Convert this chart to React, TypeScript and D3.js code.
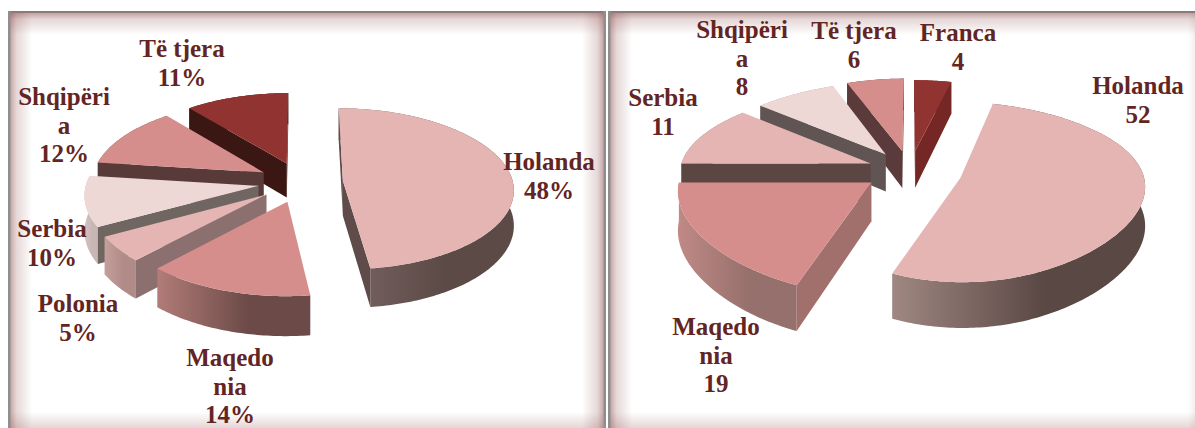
import React from 'react';
import * as d3 from 'd3';

// left chart (percent), clockwise from 12 o'clock
const leftNames = ['Holanda', 'Maqedonia', 'Polonia', 'Serbia', 'Shqipëria', 'Të tjera'];
const leftValues = [48, 14, 5, 10, 12, 11];
const leftLabels = [
  ['Holanda', '48%'],
  ['Maqedo', 'nia', '14%'],
  ['Polonia', '5%'],
  ['Serbia', '10%'],
  ['Shqipëri', 'a', '12%'],
  ['Të tjera', '11%'],
];

// right chart, also clockwise from 12 o'clock
const rightNames = ['Franca', 'Holanda', 'Maqedonia', 'Serbia', 'Shqipëria', 'Të tjera'];
const rightValues = [4, 52, 19, 11, 8, 6];
const rightLabels = [
  ['Franca', '4'],
  ['Holanda', '52'],
  ['Maqedo', 'nia', '19'],
  ['Serbia', '11'],
  ['Shqipëri', 'a', '8'],
  ['Të tjera', '6'],
];

// [top, side wall, rim light, rim dark]
const rose = '#e4b5b3';
const red = '#d58e8b';
const pale = '#eed8d6';
const wine = '#913431';
const leftStyles = [
  [rose, '#5f4c4a', '#7a6664', '#5c4a47'],
  [red, '#a1706d', '#b27c78', '#6b4a47'],
  [rose, '#8c6f6f', '#c49f9c', '#b08b88'],
  [pale, '#6f6662', '#d5c2c0', '#c8b6b4'],
  [red, '#583a39', '#8a5e5c', '#6a4846'],
  [wine, '#3b1714', '#4a1d1a', '#3b1714'],
];
const rightStyles = [
  [wine, '#742724', '#742724', '#742724'],
  [rose, '#5f4c4a', '#a08782', '#5a4844'],
  [red, '#a1706d', '#c08a86', '#96706c'],
  [rose, '#5c4644', '#a58583', '#8d6f6d'],
  [pale, '#605553', '#bdaeac', '#a59896'],
  [red, '#5a3a3a', '#8a5e5c', '#6a4846'],
];

// label centre x, first baseline y
const leftLabelPos = [[549, 170], [230, 366], [78, 312], [52, 237], [64, 105], [182, 57]];
const rightLabelPos = [[958, 41], [1138, 94], [716, 335], [663, 106], [742, 38], [854, 39]];

const charts = [
  {
    id: 'l', values: leftValues, names: leftNames, labels: leftLabels, labelPos: leftLabelPos, styles: leftStyles,
    cx: 301, cy: 182, radius: 172, tilt: 0.47, persp: 0.1, perspNear: 0.1, depth: 35,
    radii: [170, 172, 172, 172, 172, 172], explode: [42, 43, 43, 43, 43, 43],
  },
  {
    id: 'r', values: rightValues, names: rightNames, labels: rightLabels, labelPos: rightLabelPos, styles: rightStyles,
    cx: 910, cy: 170, radius: 187, tilt: 0.47, persp: 0.16, perspNear: 0.05, depth: 38,
    radii: [187, 182, 190, 191, 190, 192], explode: [42, 52.6, 46, 42, 42, 42],
  },
];

const panels = [
  { x: 8, y: 11, w: 598, h: 425 },
  { x: 608, y: 11, w: 604, h: 425 },
];
const glow = 24;

const line = d3.line().curve(d3.curveLinear);

function Slice({ arc, chart, i }: any) {
  const { cx, cy, radius, tilt, persp, perspNear, depth } = chart;
  const mid = (arc.startAngle + arc.endAngle) / 2;
  const e = chart.explode[i];
  const r = chart.radii[i];
  const ax = e * Math.sin(mid);
  const ay = -e * Math.cos(mid);

  const project = (gx: number, gy: number, z = 0) => {
    const t = gy / radius;
    const s = 1 / (1 - persp * t);
    // the near half spreads sideways less than it drops
    const sx = 1 + ((persp + perspNear) / 2) * t + ((perspNear - persp) / 2) * t * t;
    return [cx + gx * sx, cy + gy * tilt * s + z * depth * s];
  };
  const rim = (a: number, z = 0) => project(ax + r * Math.sin(a), ay - r * Math.cos(a), z);

  const n = Math.ceil(((arc.endAngle - arc.startAngle) * 180) / Math.PI);
  const angles = d3.range(n + 1).map((k) => arc.startAngle + ((arc.endAngle - arc.startAngle) * k) / n);
  const apex = project(ax, ay);
  const apexLow = project(ax, ay, 1);
  const [top, side, rimLight, rimDark] = chart.styles[i];
  const gradId = `rim-${chart.id}-${i}`;

  const topPts = [apex, ...angles.map((a) => rim(a))];
  const band = [...angles.map((a) => rim(a)), ...angles.slice().reverse().map((a) => rim(a, 1))];
  const wall = (a: number) => [apex, rim(a), rim(a, 1), apexLow];

  // a cut face only shows if extruding downwards leaves the slice's top
  const faces = (a: number) => {
    const p = rim(a);
    const m = rim(mid);
    const dx = p[0] - apex[0];
    const dy = p[1] - apex[1];
    return dx * (m[1] - apex[1]) - dy * (m[0] - apex[0]) < 0 === dx > 0;
  };

  return (
    <g>
      <defs>
        <linearGradient id={gradId} x1="0" x2="1" y1="0" y2="0">
          <stop offset="0" stopColor={rimLight} />
          <stop offset="0.6" stopColor={rimDark} />
          <stop offset="1" stopColor={rimDark} />
        </linearGradient>
      </defs>
      <path d={line(band) + 'Z'} fill={`url(#${gradId})`} />
      {[arc.startAngle, arc.endAngle].filter(faces).map((a: number) => (
        <path key={a} d={line(wall(a)) + 'Z'} fill={side} />
      ))}
      <path d={line(topPts) + 'Z'} fill={top} />
    </g>
  );
}

function Pie3D({ chart }: any) {
  const arcs = d3.pie().sort(null).value((d: any) => d)(chart.values);
  // far slices first, so nearer ones paint over them
  const order = arcs
    .map((arc: any, i: number) => ({ arc, i }))
    .sort((a: any, b: any) => {
      const ya = -chart.explode[a.i] * Math.cos((a.arc.startAngle + a.arc.endAngle) / 2);
      const yb = -chart.explode[b.i] * Math.cos((b.arc.startAngle + b.arc.endAngle) / 2);
      return ya - yb;
    });
  return (
    <g>
      {order.map(({ arc, i }: any) => (
        <Slice key={chart.names[i]} arc={arc} chart={chart} i={i} />
      ))}
      {chart.labels.map((lines: string[], i: number) => (
        <text
          key={chart.names[i]}
          x={chart.labelPos[i][0]}
          y={chart.labelPos[i][1]}
          textAnchor="middle"
          fontFamily="'Liberation Serif', serif"
          fontWeight="bold"
          fontSize={25}
          fill="#632523"
        >
          {lines.map((t, k) => (
            <tspan key={k} x={chart.labelPos[i][0]} dy={k === 0 ? 0 : 28.6}>
              {t}
            </tspan>
          ))}
        </text>
      ))}
    </g>
  );
}

function Panel({ p }: any) {
  return (
    <g>
      <rect x={p.x} y={p.y} width={p.w} height={p.h} fill="#fff" />
      <rect x={p.x} y={p.y} width={glow} height={p.h} fill="url(#glowL)" />
      <rect x={p.x + p.w - glow} y={p.y} width={glow} height={p.h} fill="url(#glowR)" />
      <rect x={p.x} y={p.y} width={p.w} height={glow} fill="url(#glowT)" />
      <rect x={p.x} y={p.y + p.h - glow} width={p.w} height={glow} fill="url(#glowB)" />
      <rect x={p.x} y={p.y} width={p.w} height={2} fill="#8a7a7a" />
      <rect x={p.x} y={p.y} width={2.5} height={p.h} fill="#8f8f8f" />
      <rect x={p.x + p.w - 2.5} y={p.y} width={2.5} height={p.h} fill="#8f8f8f" />
    </g>
  );
}

const glowDirs = [
  ['glowL', 0, 0, 1, 0],
  ['glowR', 1, 0, 0, 0],
  ['glowT', 0, 0, 0, 1],
  ['glowB', 0, 1, 0, 0],
];

export default function App() {
  return (
    <svg width={1195} height={428} style={{ position: 'absolute', left: 0, top: 0, background: '#fff' }}>
      <defs>
        {glowDirs.map(([id, x1, y1, x2, y2]: any) => (
          <linearGradient key={id} id={id} x1={x1} y1={y1} x2={x2} y2={y2}>
            <stop offset="0" stopColor="#8c4a4a" stopOpacity={0.6} />
            <stop offset="0.35" stopColor="#8c4a4a" stopOpacity={0.22} />
            <stop offset="1" stopColor="#8c4a4a" stopOpacity={0} />
          </linearGradient>
        ))}
      </defs>
      {panels.map((p, i) => (
        <Panel key={i} p={p} />
      ))}
      {charts.map((c) => (
        <Pie3D key={c.id} chart={c} />
      ))}
    </svg>
  );
}
